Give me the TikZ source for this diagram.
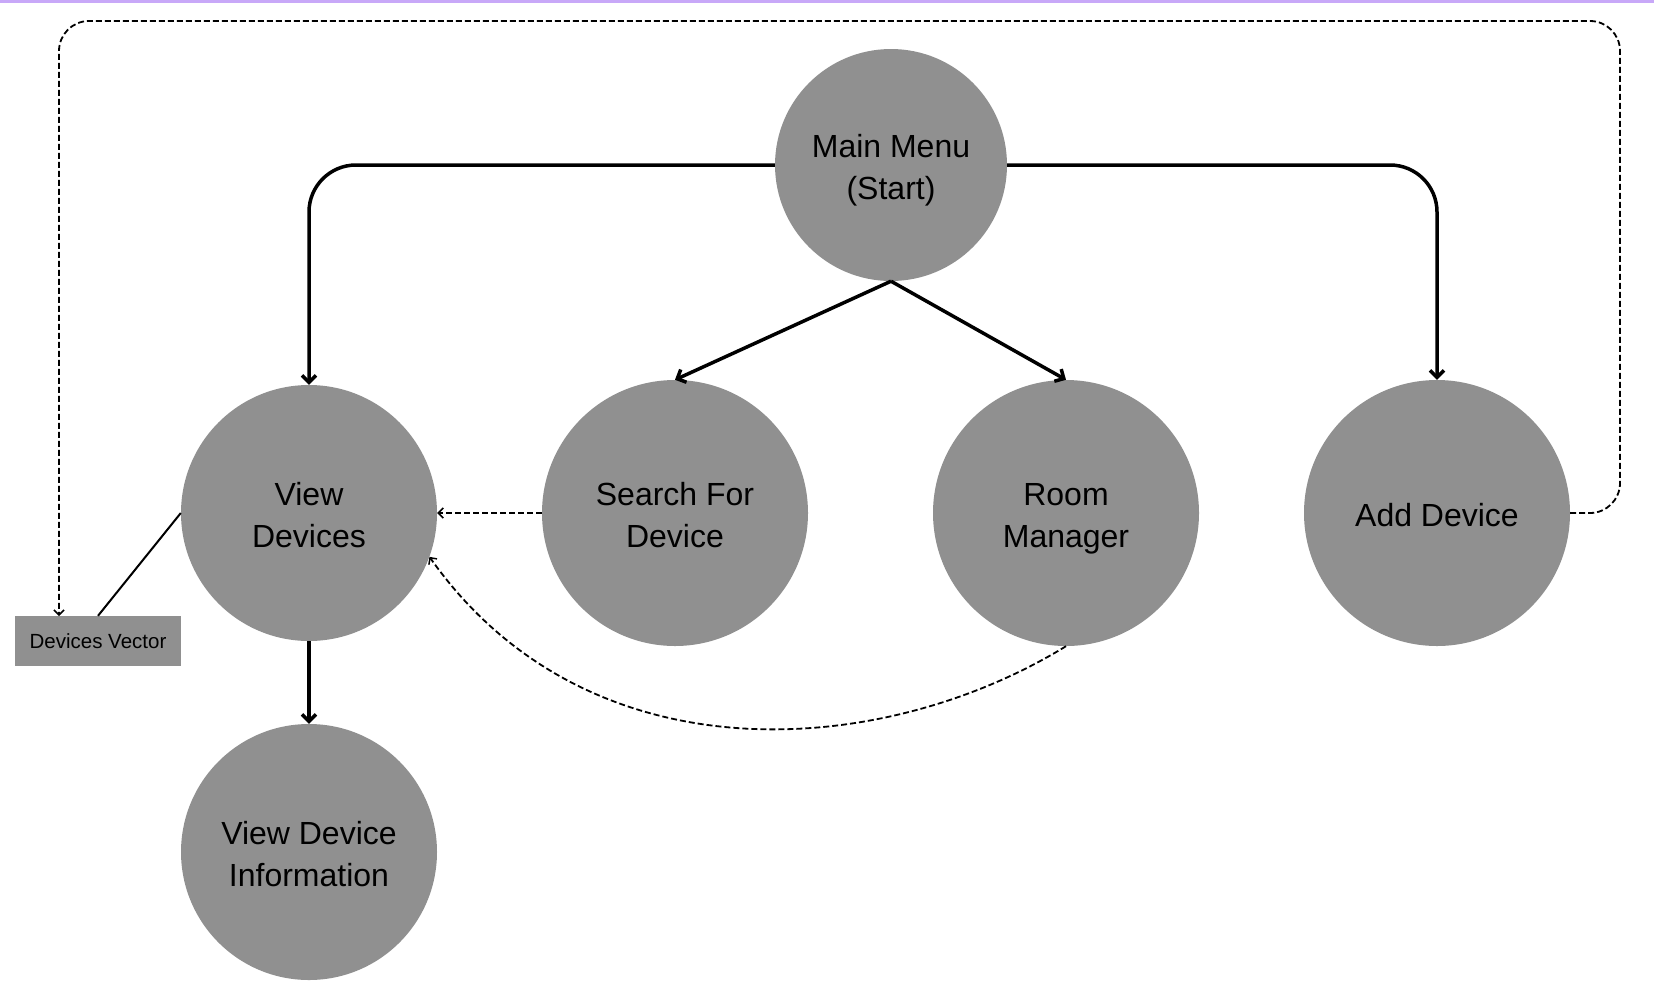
\documentclass[tikz,border=0pt]{standalone}
\usepackage{fontspec}
\setmainfont{Liberation Sans}
\usetikzlibrary{arrows.meta}
\definecolor{nodegray}{HTML}{909090}
\definecolor{topline}{HTML}{C8A8F8}
\newcommand{\txtline}[1]{\rule[-8pt]{0pt}{42pt}#1}
\begin{document}
\begin{tikzpicture}[x=1pt,y=-1pt,
  state/.style={circle, fill=nodegray, minimum size=#1, inner sep=0pt, align=center,
    font=\fontsize{32}{42}\selectfont},
  vecbox/.style={rectangle, fill=nodegray, minimum width=166pt, minimum height=50pt,
    inner sep=0pt, font=\fontsize{20.5}{24}\selectfont},
  mainarrow/.style={line width=3.5pt, -{Straight Barb[length=7pt,width=14pt,line width=3.5pt]}},
  dasharrow/.style={line width=1.8pt, dash pattern=on 6pt off 3pt,
    -{Straight Barb[length=5pt,width=10pt,line width=1.5pt]}},
  plainline/.style={line width=2pt}]
\useasboundingbox (0,0) rectangle (1654,1002);
\fill[topline] (0,0) rectangle (1654,2.5);

\node[state=232pt] (menu) at (891,165) {\txtline{Main Menu}\\\txtline{(Start)}};
\node[state=256pt] (view) at (309,513) {\txtline{View}\\\txtline{Devices}};
\node[state=266pt] (search) at (675,513) {\txtline{Search For}\\\txtline{Device}};
\node[state=266pt] (room) at (1066,513) {\txtline{Room}\\\txtline{Manager}};
\node[state=266pt] (add) at (1437,513) {\txtline{Add Device}};
\node[state=256pt] (info) at (309,852) {\txtline{View Device}\\\txtline{Information}};
\node[vecbox] (vec) at (98,641) {Devices Vector};

\coordinate (loopR) at (1620,21);
\coordinate (vtop) at (59,616);

\draw[mainarrow, rounded corners=47pt] (menu.west) -| (view.north);
\draw[mainarrow, rounded corners=47pt] (menu.east) -| (add.north);
\draw[mainarrow] (menu.south) -- (search.north);
\draw[mainarrow] (menu.south) -- (room.north);
\draw[mainarrow] (view.south) -- (info.north);

\draw[dasharrow] (search.west) -- (view.east);
\draw[dasharrow] (room.south) .. controls (880,760) and (587,780) .. (view.-20);
\draw[dasharrow, rounded corners=30pt] (add.east) -| (loopR) -| (vtop);

\draw[plainline] (view.west) -- (vec.north);
\end{tikzpicture}
\end{document}
